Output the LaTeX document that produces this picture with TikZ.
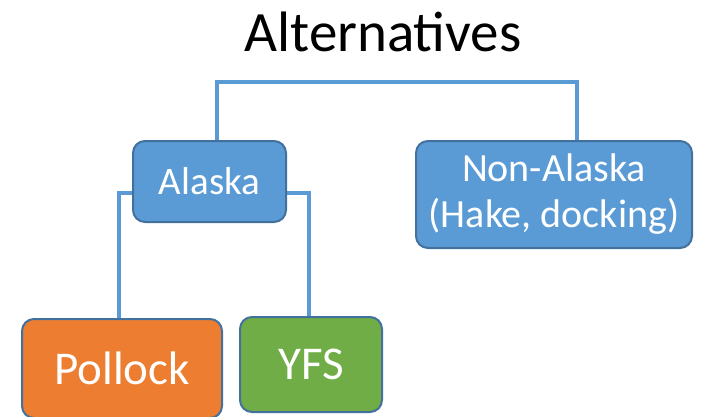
\documentclass[tikz,border=0pt]{standalone}
\usepackage{fontspec}
\setmainfont{Carlito}
\usetikzlibrary{backgrounds}
\definecolor{boxblue}{HTML}{5B9BD5}
\definecolor{edgeblue}{HTML}{41719C}
\definecolor{boxorange}{HTML}{ED7D31}
\definecolor{boxgreen}{HTML}{70AD47}
\tikzset{
  box/.style={draw=edgeblue, line width=2pt, rounded corners=12pt, text=white, align=center, inner sep=0pt},
  link/.style={draw=boxblue, line width=4pt}
}
\begin{document}
\begin{tikzpicture}[x=1pt,y=-1pt]
\useasboundingbox (0,0) rectangle (704,416);
\node[font=\fontsize{57}{60}\selectfont] (title) at (383,32) {Alternatives};
\node[box, fill=boxblue, minimum width=153pt, minimum height=81pt, font=\fontsize{39}{44}\selectfont] (alaska) at (209.5,181.5) {Alaska};
\node[box, fill=boxblue, minimum width=276pt, minimum height=107pt, font=\fontsize{40}{46}\selectfont] (non) at (554,194.5) {Non-Alaska\\(Hake, docking)};
\node[box, fill=boxorange, minimum width=200pt, minimum height=99pt, font=\fontsize{47}{50}\selectfont] (pollock) at (122,368.5) {Pollock};
\node[box, fill=boxgreen, minimum width=142pt, minimum height=95pt, font=\fontsize{47}{50}\selectfont] (yfs) at (311,364.5) {YFS};
\begin{scope}[on background layer]
\draw[link] ([xshift=7.5pt]alaska.north) -- ++(0,-58) -| ([xshift=23pt]non.north);
\draw[link] ([yshift=-11.5pt]alaska.west) -| ([xshift=-3pt]pollock.north);
\draw[link] ([yshift=-11.5pt]alaska.east) -| ([xshift=-2pt]yfs.north);
\end{scope}
\end{tikzpicture}
\end{document}
